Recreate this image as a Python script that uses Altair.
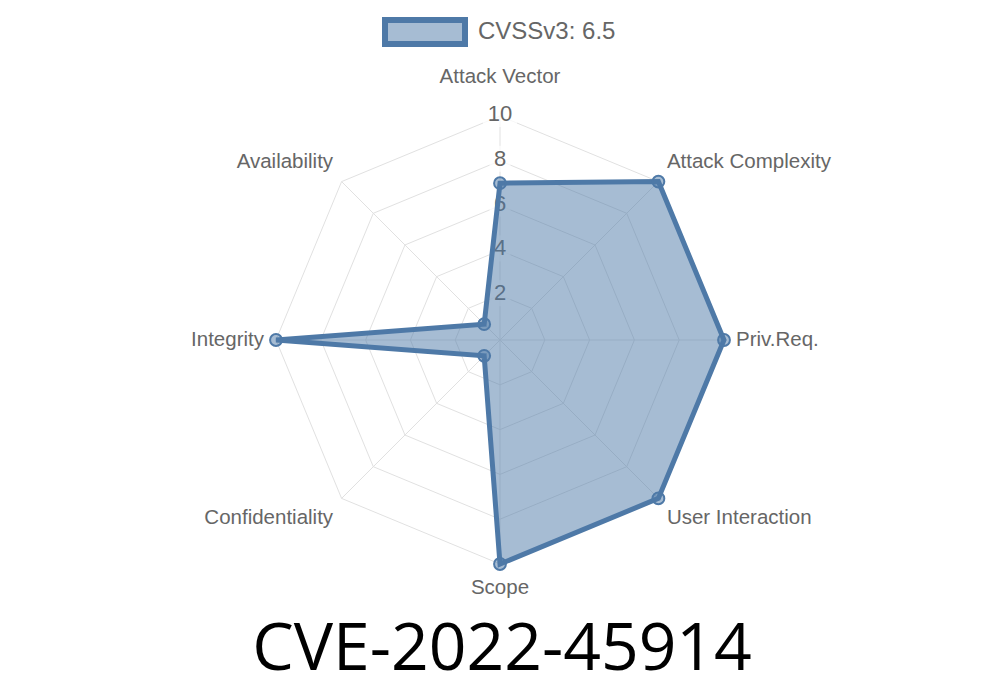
import altair as alt
import pandas as pd

# ---- data ----
axes = ["Attack Vector", "Attack Complexity", "Priv.Req.", "User Interaction",
        "Scope", "Confidentiality", "Integrity", "Availability"]
scores = [7, 10, 10, 10, 10, 1, 10, 1]
series_name = "CVSSv3: 6.5"
ticks = [2, 4, 6, 8, 10]
r_max = 10
title_text = "CVE-2022-45914"

n = len(axes)
df = pd.DataFrame({"axis": axes, "idx": list(range(n)), "value": scores, "series": series_name})
rings = pd.DataFrame([{"ring": t, "idx": i} for t in ticks for i in range(n)])
spokes = pd.DataFrame({"idx": list(range(n)), "r": [r_max] * n})
tick_df = pd.DataFrame({"tick": ticks, "label": [str(t) for t in ticks]})
label_df = pd.DataFrame({"axis": axes, "idx": list(range(n))})

# ---- layout ----
W, H = 984, 600
PX = 22.4            # pixels per unit of score
cx, cy = 492, 332    # centre in plot coordinates
xs = alt.Scale(domain=[-cx / PX, (W - cx) / PX], nice=False, zero=False)
ys = alt.Scale(domain=[-(H - cy) / PX, cy / PX], nice=False, zero=False)


def X(f):
    return alt.X(f, type="quantitative", scale=xs, axis=None)


def Y(f):
    return alt.Y(f, type="quantitative", scale=ys, axis=None)


ANG = f"datum.idx * 2 * PI / {n}"
GRID = "#e1e1e1"
TXT = "#666666"
BLUE = "#4e79a7"
HALF = "rgba(78,121,167,0.5)"
LFONT = "Liberation Sans"

grid = alt.Chart(rings).transform_calculate(
    a=ANG
).transform_calculate(
    gx="datum.ring * sin(datum.a)", gy="datum.ring * cos(datum.a)"
).mark_line(interpolate="linear-closed", color=GRID, strokeWidth=1).encode(
    x=X("gx"), y=Y("gy"), detail="ring:N", order="idx:Q"
)

spoke = alt.Chart(spokes).transform_calculate(
    a=ANG
).transform_calculate(
    x0="0", y0="0", sx="datum.r * sin(datum.a)", sy="datum.r * cos(datum.a)"
).mark_rule(color=GRID, strokeWidth=1).encode(
    x=X("x0"), y=Y("y0"), x2=alt.X2("sx"), y2=alt.Y2("sy")
)

backdrop = alt.Chart(tick_df).transform_calculate(
    hw=f"(length(datum.label) * 6.5 + 4) / {PX}",
    hh=f"13 / {PX}",
    lift=f"2 / {PX}"
).transform_calculate(
    bx1="-datum.hw", bx2="datum.hw",
    by1="datum.tick + datum.lift - datum.hh", by2="datum.tick + datum.lift + datum.hh"
).mark_rect(color="white", opacity=0.75).encode(
    x=X("bx1"), x2=alt.X2("bx2"), y=Y("by1"), y2=alt.Y2("by2")
)

tick_text = alt.Chart(tick_df).transform_calculate(
    tx="0"
).mark_text(fontSize=22, font=LFONT, color=TXT, baseline="middle", dy=-2).encode(
    x=X("tx"), y=Y("tick"), text="label:N"
)

R_LAB = 236 / PX
K_LAB = 11 / PX
lab_base = alt.Chart(label_df).transform_calculate(
    a=ANG
).transform_calculate(
    lx=f"{R_LAB} * sin(datum.a)",
    ly=(f"abs(cos(datum.a)) > 0.99 ? (cos(datum.a) > 0 ? {263 / PX} : {-248 / PX}) : "
        f"{R_LAB} * cos(datum.a) + (abs(cos(datum.a)) < 1e-6 ? 0 : (cos(datum.a) > 0 ? {K_LAB} : {-K_LAB}))")
)
lab_kw = dict(fontSize=20.5, font=LFONT, color=TXT, baseline="middle")
lab_enc = dict(x=X("lx"), y=Y("ly"), text="axis:N")
lab_right = lab_base.transform_filter(f"datum.idx > 0 && datum.idx < {n / 2}").mark_text(align="left", **lab_kw).encode(**lab_enc)
lab_left = lab_base.transform_filter(f"datum.idx > {n / 2}").mark_text(align="right", **lab_kw).encode(**lab_enc)
lab_mid = lab_base.transform_filter(f"datum.idx == 0 || datum.idx == {n / 2}").mark_text(align="center", **lab_kw).encode(**lab_enc)

pts_base = alt.Chart(df).transform_calculate(
    a=ANG
).transform_calculate(
    px="datum.value * sin(datum.a)", py="datum.value * cos(datum.a)"
)

poly = pts_base.mark_line(
    interpolate="linear-closed", strokeWidth=5, fill=HALF, strokeJoin="miter"
).encode(
    x=X("px"), y=Y("py"), order="idx:Q",
    color=alt.Color("series:N", scale=alt.Scale(range=[BLUE]),
                    legend=alt.Legend(
                        title=None, orient="none", legendX=374, legendY=-19,
                        symbolType="M-1,-0.3H1V0.3H-1Z", symbolSize=6400,
                        symbolStrokeWidth=6, symbolStrokeColor=BLUE,
                        labelFontSize=24, labelFont=LFONT, labelColor=TXT, labelOffset=10,
                        padding=0))
)

pts = pts_base.mark_point(
    shape="circle", size=140, filled=True, fill=HALF,
    stroke=BLUE, strokeWidth=2, opacity=1
).encode(x=X("px"), y=Y("py"))

chart = alt.layer(
    grid, spoke, backdrop, tick_text, lab_right, lab_left, lab_mid, poly, pts
).properties(
    width=W, height=H,
    padding={"left": 0, "top": 0, "right": 0, "bottom": 84},
    autosize=alt.AutoSizeParams(type="none"),
    title=alt.TitleParams(title_text, orient="bottom", anchor="middle", fontSize=66,
                          font="Open Sans", fontWeight="normal", color="black", offset=10, dx=2)
).configure(background="white").configure_view(strokeWidth=0, stroke=None)

chart.save("out.html", embed_options={"renderer": "svg", "actions": False})
